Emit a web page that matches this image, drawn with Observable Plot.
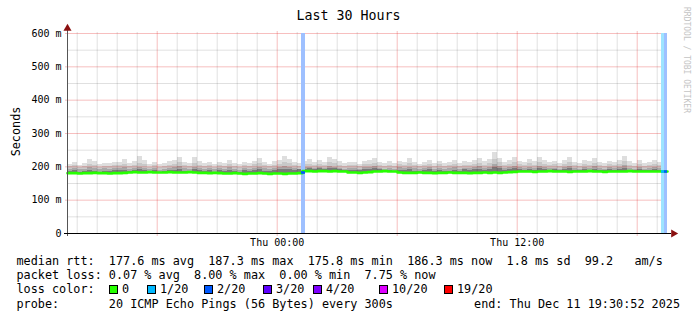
<!DOCTYPE html>
<html><head><meta charset="utf-8">
<script src="https://cdn.jsdelivr.net/npm/d3@7"></script>
<script src="https://cdn.jsdelivr.net/npm/@observablehq/plot@0.6"></script>
<style>
body{margin:0;background:#fff;}
#wrap{position:relative;width:697px;height:321px;overflow:hidden;}
#wrap svg{position:absolute;left:0;top:0;}
.ov text{font-family:"DejaVu Sans Mono",monospace;white-space:pre;}
</style></head><body><div id="wrap"></div>
<script>
// ---- data ----
const startTime = new Date(Date.UTC(2025, 11, 10, 13, 30, 52));
const endTime = new Date(Date.UTC(2025, 11, 11, 19, 30, 52));
const stepMinutes = 15;

// median rtt per 15-minute column (ms)
const median = [
  181,181,180,181,181,182,181,181,180,181,181,182,
  183,184,183,183,184,183,183,183,184,183,183,183,184,183,182,
  182,181,182,181,180,180,181,180,179,180,180,181,180,179,180,180,179,180,180,181,
  187,187,186,187,187,186,187,186,186,
  183,183,182,183,184,
  186,186,187,186,186,
  183,182,182,182,183,182,182,181,182,182,183,182,182,182,181,182,182,183,182,183,182,183,184,
  185,186,186,186,185,186,186,187,186,186,186,185,186,186,186,187,186,186,185,186,186,186,186,187,186,186,186,186,186,186,186
];
// dark smoke top (ms)
const darkTop = [
  185,188,184,186,190,187,184,187,185,189,
  188,190,185,188,191,189,184,188,184,186,
  189,190,192,187,185,191,189,185,188,184,
  188,185,190,186,184,188,185,189,191,187,
  185,189,191,193,191,190,192,193,194,192,
  194,191,195,194,192,190,190,189,188,192,
  193,194,191,189,190,187,190,188,192,187,
  186,189,191,187,190,186,187,190,187,191,
  188,192,193,190,193,199,194,190,192,194,
  192,190,193,190,194,192,189,191,188,192,
  194,190,189,192,190,193,189,189,192,189,
  192,195,190,189,192,188,190,191,189,202
];
// mid smoke top (ms)
const midTop = [
  192,195,191,193,197,195,191,194,192,196,
  194,197,192,195,199,196,191,194,190,193,
  196,197,200,194,192,199,196,192,194,191,
  195,192,197,193,190,195,192,196,199,194,
  192,196,198,201,198,195,193,197,199,196,
  199,195,201,199,196,193,195,194,192,197,
  198,200,195,193,196,193,197,195,199,194,
  192,195,198,193,196,192,194,197,193,196,
  194,198,200,196,199,208,201,196,198,201,
  197,195,199,196,201,197,194,196,193,197,
  201,195,193,198,196,200,194,193,197,194,
  198,203,196,193,198,193,195,197,194,210
];
// light smoke top (ms)
const lightTop = [
  200,203,198,201,206,204,199,202,200,205,
  203,207,201,204,210,206,199,203,198,202,
  205,206,212,203,201,210,205,200,203,199,
  204,201,207,202,198,204,200,206,211,203,
  200,205,208,214,209,204,202,206,208,204,
  208,203,212,209,205,201,204,203,200,206,
  208,211,204,201,205,202,207,204,210,203,
  200,204,208,202,206,201,203,207,201,205,
  203,208,211,205,210,222,212,205,208,213,
  206,204,209,205,212,207,203,206,201,207,
  213,204,202,208,205,211,203,201,206,203,
  208,215,205,202,208,201,204,207,203,220
];
// highest ping per column (ms)
const maxTop = [
  208,212,205,210,223,215,206,211,209,214,
  212,223,210,216,230,219,208,213,207,211,
  215,218,229,214,210,228,216,209,212,207,
  213,210,220,211,206,214,209,217,226,212,
  208,215,219,232,221,214,211,216,222,213,
  218,212,229,223,215,209,214,212,208,216,
  219,226,213,209,215,211,217,214,226,212,
  208,214,220,211,216,209,213,218,210,215,
  212,219,224,216,222,244,226,214,219,229,
  217,213,221,215,229,219,212,216,210,218,
  229,214,211,219,216,226,213,210,217,212,
  220,232,215,211,220,209,214,218,213,231
];

// packet loss events
const lossStart = ["2025-12-11T01:12:52Z", "2025-12-11T19:12:52Z", "2025-12-11T19:21:52Z"];
const lossEnd   = ["2025-12-11T01:24:52Z", "2025-12-11T19:21:52Z", "2025-12-11T19:30:52Z"];
const lossCount = [2, 1, 2];
const lossMedian = [183, 186, 186];

const yTicks = [0, 100, 200, 300, 400, 500, 600];
const yMinorTicks = [50, 150, 250, 350, 450, 550];
const xTicks = ["2025-12-11T00:00:00Z", "2025-12-11T12:00:00Z"];

const lossLabels = ["0", "1/20", "2/20", "3/20", "4/20", "10/20", "19/20"];
const lossSteps = [0, 1, 2, 3, 4, 10, 19];
const lossColors = ["#26ff00", "#00b8ff", "#0059ff", "#5e00ff", "#7e00ff", "#dd00ff", "#ff0000"];

const titleText = "Last 30 Hours";
const yLabel = "Seconds";
const watermark = "RRDTOOL / TOBI OETIKER";
const legendLines = [
  "median rtt:  177.6 ms avg  187.3 ms max  175.8 ms min  186.3 ms now  1.8 ms sd  99.2   am/s",
  "packet loss: 0.07 % avg  8.00 % max  0.00 % min  7.75 % now",
  "loss color:",
  "probe:       20 ICMP Echo Pings (56 Bytes) every 300s"
];
const endText = "end: Thu Dec 11 19:30:52 2025";

// ---- build ----
const stepMs = stepMinutes * 60000;
const rows = median.map((m, i) => ({
  t0: new Date(+startTime + i * stepMs),
  t1: new Date(+startTime + (i + 1) * stepMs),
  med: m, dk: darkTop[i], p75: midTop[i], p90: lightTop[i], hi: maxTop[i]
}));
const linePts = rows.map(r => ({t: r.t0, v: r.med}));
linePts.push({t: endTime, v: median[median.length - 1]});
const colorOf = n => lossColors[lossSteps.indexOf(n)];
const lossRows = lossStart.map((s, i) => ({
  t0: new Date(s), t1: new Date(lossEnd[i]), n: lossCount[i], med: lossMedian[i]
}));
const hours = d3.utcHour.range(startTime, endTime);
const minorHours = hours.filter(h => h.getUTCHours() % 6 !== 0);
const majorHours = hours.filter(h => h.getUTCHours() % 6 === 0);
const yDom = [yTicks[0], yTicks[yTicks.length - 1]];

const minorCol = "rgba(0,0,0,0.12)";
const majorCol = "rgba(225,0,0,0.25)";
const arrowCol = "#8b1010";

const chart = Plot.plot({
  width: 697, height: 250,
  marginLeft: 67, marginRight: 30, marginTop: 33, marginBottom: 17,
  style: {fontFamily: "DejaVu Sans Mono", fontSize: "10px", color: "#000", background: "#fff"},
  x: {type: "utc", domain: [startTime, endTime]},
  y: {domain: yDom},
  marks: [
    Plot.rect(rows, {x1: "t0", x2: "t1", y1: "med", y2: "hi", fill: "#dedede", shapeRendering: "crispEdges"}),
    Plot.rect(rows, {x1: "t0", x2: "t1", y1: "med", y2: "p90", fill: "#c8c8c8", shapeRendering: "crispEdges"}),
    Plot.rect(rows, {x1: "t0", x2: "t1", y1: "med", y2: "p75", fill: "#a8a8a8", shapeRendering: "crispEdges"}),
    Plot.rect(rows, {x1: "t0", x2: "t1", y1: "med", y2: "dk", fill: "#7a7a7a", shapeRendering: "crispEdges"}),
    Plot.ruleX(minorHours, {stroke: minorCol, insetTop: -1}),
    Plot.ruleY(yMinorTicks, {stroke: minorCol}),
    Plot.ruleX(majorHours, {stroke: majorCol, insetTop: -2, insetBottom: -3}),
    Plot.ruleY(yTicks, {stroke: majorCol, insetLeft: -2}),
    Plot.rect(lossRows, {x1: "t0", x2: "t1", fill: d => d3.interpolateRgb("#ffffff", colorOf(d.n))(0.38), shapeRendering: "crispEdges"}),
    Plot.line(linePts, {x: "t", y: "v", curve: "step-after", stroke: lossColors[0], strokeWidth: 2.6}),
    Plot.ruleY(lossRows, {y: "med", x1: "t0", x2: "t1", stroke: d => colorOf(d.n), strokeWidth: 2.6}),
    Plot.ruleX([startTime], {stroke: "#555", insetTop: -4, insetBottom: -3}),
    Plot.ruleY([yDom[0]], {stroke: "#000", insetLeft: -3, insetRight: -4}),
    Plot.dot([0], {x: () => startTime, y: () => yDom[1], symbol: "triangle", r: 3, fill: arrowCol, dy: -5}),
    Plot.dot([0], {x: () => endTime, y: () => yDom[0], symbol: "triangle", r: 3, rotate: 90, fill: arrowCol, dx: 6}),
    Plot.axisX({ticks: xTicks.map(s => new Date(s)), tickFormat: d3.utcFormat("%a %H:%M"), tickSize: 0, tickPadding: 5, label: null}),
    Plot.axisY({ticks: yTicks, tickFormat: d => d === 0 ? "0" : d + " m", tickSize: 0, tickPadding: 6, label: null})
  ]
});
const wrap = document.getElementById("wrap");
wrap.appendChild(chart);

// overlay texts (title, labels, legend)
const ns = "http://www.w3.org/2000/svg";
const ov = d3.select(wrap).append("svg").attr("class", "ov").attr("width", 697).attr("height", 321).attr("xmlns", ns);
ov.append("text").attr("x", 348.5).attr("y", 20).attr("text-anchor", "middle").attr("font-size", 13.3).attr("fill", "#000").text(titleText);
ov.append("text").attr("transform", "translate(19.5,131.5) rotate(-90)").attr("text-anchor", "middle").attr("font-size", 11.8).attr("fill", "#000").text(yLabel);
ov.append("text").attr("transform", "translate(684,7) rotate(90)").attr("font-size", 8).attr("fill", "#c4c4c4").text(watermark);
const baselines = [265, 279, 293, 307.5];
legendLines.forEach((s, i) => {
  ov.append("text").attr("x", 16.5).attr("y", baselines[i]).attr("font-size", 11.8).attr("fill", "#000").text(s);
});
ov.append("text").attr("x", 680).attr("y", baselines[3]).attr("text-anchor", "end").attr("font-size", 11.8).attr("fill", "#000").text(endText);
const boxX = [109, 147, 204, 263, 313, 379, 444];
lossLabels.forEach((lab, i) => {
  ov.append("rect").attr("x", boxX[i] + 0.5).attr("y", 285.5).attr("width", 8).attr("height", 8)
    .attr("fill", lossColors[i]).attr("stroke", "#000").attr("stroke-width", 1);
  ov.append("text").attr("x", boxX[i] + 13).attr("y", baselines[2]).attr("font-size", 11.8).attr("fill", "#000").text(lab);
});
</script></body></html>
